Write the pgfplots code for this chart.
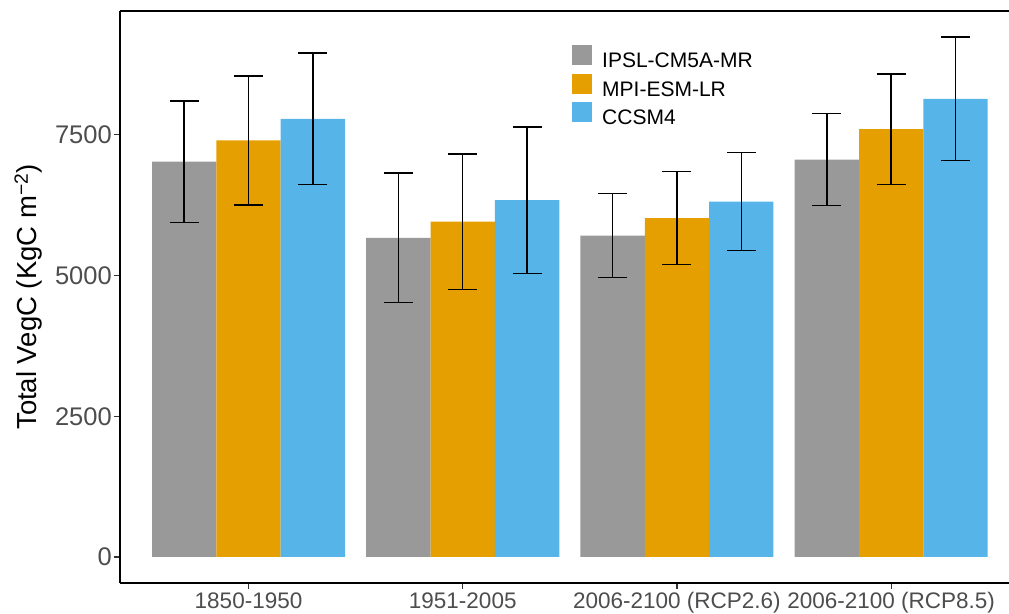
\documentclass[border=0pt]{standalone}
\usepackage{fontspec}
\setmainfont{Liberation Sans}
\usepackage{pgfplots}
\usepackage{pgfplotstable}
\pgfplotsset{compat=1.18}
\definecolor{cgray}{HTML}{999999}
\definecolor{corange}{HTML}{E69F00}
\definecolor{cblue}{HTML}{56B4E9}
\definecolor{tickgray}{HTML}{4D4D4D}
\definecolor{tickline}{HTML}{333333}
\pgfplotstableread{
x gray gerr orange oerr blue berr
1 7021 1081 7400 1143 7783 1170
2 5670 1152 5957 1205 6338 1303
3 5709 745 6020 825 6312 869
4 7060 819 7600 983 8140 1100
}\datatab
\begin{document}
\begin{tikzpicture}
\useasboundingbox (-120pt,-30pt) rectangle (889pt,583pt);
\begin{axis}[
  at={(0pt,0pt)}, anchor=south west,
  scale only axis, width=889pt, height=572pt,
  xmin=0.4, xmax=4.55, ymin=-462, ymax=9699,
  ybar, bar width=64.35pt,
  axis x line*=box, axis y line*=left,
  axis line style={line width=1.6pt, black},
  tick pos=left, tick align=outside,
  major tick length=6pt,
  every tick/.style={tickline, line width=1.2pt},
  xtick={1,2,3,4},
  xticklabels={1850-1950,1951-2005,2006-2100 (RCP2.6),2006-2100 (RCP8.5)},
  ytick={0,2500,5000,7500},
  yticklabels={0,2500,5000,7500},
  xticklabel style={font=\fontsize{22.5}{26}\selectfont, text=tickgray},
  yticklabel style={font=\fontsize{25.5}{28}\selectfont, text=tickgray, inner xsep=2pt},
  ylabel={Total VegC (KgC m\textsuperscript{−2})},
  ylabel style={at={(axis description cs:-0.103,0.5)}, anchor=center, font=\fontsize{27.5}{30}\selectfont},
  legend style={at={(axis description cs:0.5084,0.9406)}, anchor=north west, draw=none, fill=none,
    font=\fontsize{21}{24}\selectfont, inner sep=0pt, row sep=0pt,
    nodes={inner sep=0pt, text height=16pt, text depth=5.7pt},
    /tikz/every odd column/.append style={column sep=10pt}},
  legend cell align=left,
  error bars/y dir=both, error bars/y explicit,
  error bars/error mark options={black, line width=1.5pt, mark size=14.5pt, rotate=90},
  error bars/error bar style={black, line width=1.5pt},
]
\addplot[fill=cgray, draw=none, bar shift=-64.35pt,
  legend image code/.code={\fill[cgray] (0pt,-2.5pt) rectangle (20pt,17.5pt);}]
  table[x=x, y=gray, y error=gerr] {\datatab};
\addplot[fill=corange, draw=none, bar shift=0pt,
  legend image code/.code={\fill[corange] (0pt,-2.5pt) rectangle (20pt,17.5pt);}]
  table[x=x, y=orange, y error=oerr] {\datatab};
\addplot[fill=cblue, draw=none, bar shift=64.35pt,
  legend image code/.code={\fill[cblue] (0pt,-2.5pt) rectangle (20pt,17.5pt);}]
  table[x=x, y=blue, y error=berr] {\datatab};
\legend{IPSL-CM5A-MR,MPI-ESM-LR,CCSM4}
\end{axis}
\end{tikzpicture}
\end{document}
